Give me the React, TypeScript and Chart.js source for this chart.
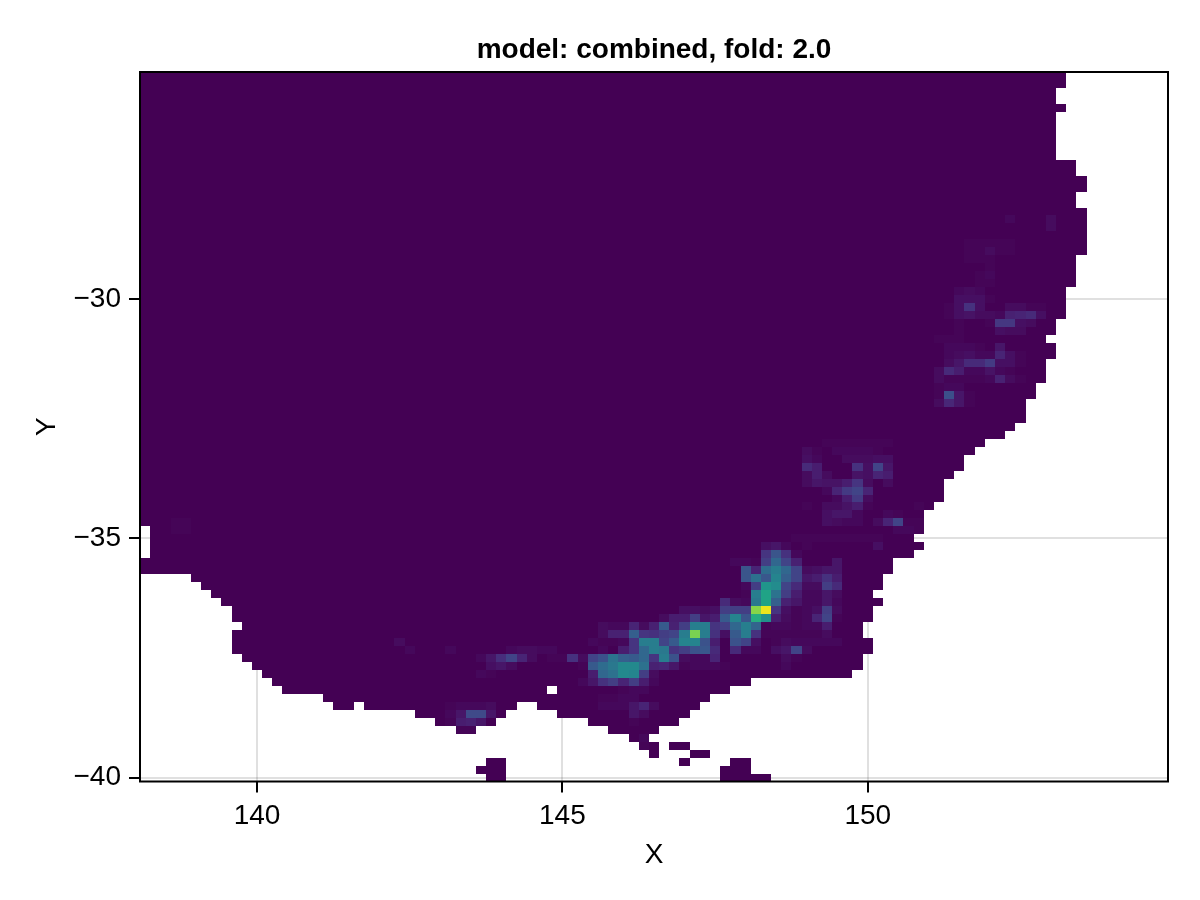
import React, { useEffect, useRef } from "react";
import { Chart, registerables } from "chart.js";

Chart.register(...registerables);

const CELL_DEG = 1 / 6;
const LON_MIN = 140 - 11.5 / 6;
const LAT_MAX = -30 + 28.5 / 6;
const COLS = 101;
const ROWS = 89;
const xTicks = [140, 145, 150];
const yTicks = [-30, -35, -40];
const titleText = "model: combined, fold: 2.0";

// land runs per grid row: [firstRow, lastRow, startCol, endCol (exclusive)]
const landRuns = [
  [0, 1, 0, 91], [2, 3, 0, 90], [4, 4, 0, 91], [5, 10, 0, 90], [11, 12, 0, 92], [13, 14, 0, 93],
  [15, 16, 0, 92], [17, 22, 0, 93], [23, 26, 0, 92], [27, 30, 0, 91], [31, 32, 0, 90], [33, 33, 0, 89],
  [34, 35, 0, 90], [36, 38, 0, 89], [39, 40, 0, 88], [41, 43, 0, 87], [44, 44, 0, 86], [45, 45, 0, 85],
  [46, 46, 0, 83], [47, 47, 0, 82], [48, 49, 0, 81], [50, 50, 0, 80], [51, 53, 0, 79], [54, 54, 0, 78],
  [55, 56, 0, 77], [57, 57, 1, 77], [58, 58, 1, 76], [59, 59, 1, 77], [60, 60, 1, 76], [61, 62, 0, 74],
  [63, 63, 5, 73], [64, 64, 6, 73], [65, 65, 7, 72], [66, 66, 8, 73], [67, 68, 9, 72], [69, 69, 10, 71],
  [70, 70, 9, 71], [71, 72, 9, 72], [73, 73, 10, 71], [74, 74, 11, 71], [75, 75, 12, 70], [76, 76, 13, 60],
  [77, 77, 14, 40], [77, 77, 41, 58], [78, 78, 18, 56], [79, 79, 19, 21], [79, 79, 22, 37], [79, 79, 39, 55],
  [80, 80, 27, 36], [80, 80, 41, 54], [81, 81, 29, 35], [81, 81, 44, 53], [82, 82, 31, 33], [82, 82, 46, 51],
  [83, 83, 48, 50], [84, 84, 49, 51], [84, 84, 52, 54], [85, 85, 50, 51], [85, 85, 54, 56],
  [86, 86, 34, 36], [86, 86, 53, 54], [86, 86, 58, 60], [87, 87, 33, 36], [87, 87, 57, 60],
  [88, 88, 34, 36], [88, 88, 57, 62],
];

// north-east cluster: [row, startCol, values in percent of the colour range]
const northEastCells: [number, number, number[]][] = [
  [18, 85, [2, 0, 0, 0, 3]], [19, 89, [3]], [21, 81, [1, 1, 1, 1, 1]], [22, 81, [1, 1, 3, 1, 1]], [23, 81, [1, 1, 1]],
  [24, 83, [1]], [25, 82, [1, 2]], [26, 82, [1, 1]], [27, 80, [2, 3, 2]], [28, 80, [4, 4, 4, 1]],
  [29, 79, [1, 4, 14, 4, 0, 0, 3, 3, 1, 1]], [30, 79, [1, 4, 5, 3, 3, 2, 9, 10, 12, 4]],
  [31, 80, [1, 0, 0, 1, 16, 16, 4, 3]], [32, 80, [1, 0, 0, 0, 4, 3, 3]], [33, 78, [1, 1, 1]],
  [34, 79, [2, 2, 2, 1, 0, 6]], [35, 79, [2, 3, 4, 2, 2, 10, 4, 1]], [36, 79, [3, 6, 12, 12, 17, 4, 4, 1]],
  [37, 78, [3, 12, 8, 2, 2, 5, 2, 1]], [38, 78, [3, 1, 1, 1, 1, 2, 9, 3, 1]], [39, 78, [1, 2, 2]],
  [40, 78, [1, 24, 6, 1]], [41, 78, [3, 11, 6, 1]],
];

// mid-coast cluster
const midCoastCells: [number, number, number[]][] = [
  [46, 67, [1, 1, 1, 1, 1, 1, 1]], [47, 65, [3, 1, 0, 2, 2, 2, 2, 1]], [48, 65, [4, 2, 0, 0, 3, 3, 3, 4, 4]],
  [49, 65, [12, 8, 0, 0, 0, 14, 4, 20, 6]], [50, 65, [3, 8, 3, 0, 0, 5, 4, 10, 8]],
  [51, 65, [3, 6, 5, 5, 8, 15, 3, 0, 3]], [52, 67, [2, 10, 17, 20, 10]], [53, 68, [2, 8, 17, 3]],
  [54, 65, [1, 0, 3, 3, 5, 8, 1, 0, 0, 0, 0, 1]], [55, 67, [4, 6, 6, 2, 0, 0, 2, 1]],
  [56, 67, [4, 3, 2, 2, 0, 3, 10, 20, 1, 1]], [57, 74, [2, 2, 1]], [58, 64, [1, 1, 1, 1, 1, 1, 1, 1, 1]],
  [59, 65, [1]], [59, 72, [4]], [56, 3, [1, 1]], [57, 3, [1, 1]],
];

// alpine cluster and the south coast
const alpineCells: [number, number, number[]][] = [
  [59, 61, [4, 6, 2]], [60, 61, [15, 26, 14, 2]], [61, 58, [2, 2, 1, 18, 33, 20, 9, 0, 0, 0, 6]],
  [62, 59, [26, 10, 35, 42, 33, 20, 3, 4, 6, 6]], [63, 59, [26, 37, 27, 45, 30, 20, 6, 8, 14, 8]],
  [64, 59, [2, 18, 52, 48, 20, 12, 3, 3, 18, 12]], [65, 59, [1, 42, 58, 38, 18, 8, 2, 2, 6, 3]],
  [66, 57, [12, 3, 2, 40, 58, 30, 9, 6, 2, 2, 6, 2]],
  [67, 53, [4, 4, 3, 4, 18, 18, 18, 82, 97, 15, 4, 1, 2, 4, 18, 3]],
  [68, 51, [3, 8, 8, 18, 6, 8, 28, 45, 26, 62, 50, 8, 3, 1, 2, 10, 20, 1]],
  [69, 45, [3, 2, 2, 10, 3, 9, 28, 9, 18, 43, 42, 15, 18, 33, 43, 32, 1, 2, 2, 1, 2, 2, 8]],
  [70, 45, [3, 9, 9, 30, 15, 14, 18, 20, 42, 80, 42, 14, 4, 28, 42, 14, 1, 1, 1, 1, 1, 1, 3]],
  [71, 44, [2, 1, 1, 2, 15, 42, 42, 20, 28, 45, 45, 25, 8, 0, 25, 20, 4, 0, 1, 3, 2, 2, 2, 2, 2]],
  [72, 36, [2, 3, 3, 2, 2, 0, 0, 0, 0, 2, 0, 8, 15, 33, 42, 40, 15, 18, 25, 27, 12, 0, 12, 2, 2, 0, 4, 6, 20, 3]],
  [73, 33, [2, 6, 13, 20, 10, 3, 0, 1, 1, 14, 3, 20, 25, 38, 30, 28, 33, 15, 42, 25, 3, 2, 2, 10]],
  [73, 63, [3, 1]],
  [74, 34, [4, 6, 3, 0, 0, 0, 0, 0, 0, 1, 28, 35, 40, 47, 47, 37, 9, 10, 6, 1, 2, 2, 2, 1]],
  [74, 63, [2]], [75, 33, [2, 1]], [75, 44, [8, 33, 37, 47, 45, 18, 3]], [76, 43, [2, 6, 14, 18, 10, 18, 8, 2]],
  [77, 47, [1, 2, 2]], [78, 45, [1, 1, 2, 2]], [79, 30, [1, 2, 2, 2, 3]], [79, 45, [2, 2, 2, 6, 10, 3]],
  [80, 30, [2, 6, 22, 22, 6]], [80, 48, [6, 3]], [81, 30, [1, 8, 9, 6]], [81, 48, [1]], [82, 31, [1, 1]],
  [83, 49, [2]], [84, 49, [1]], [71, 25, [3]], [72, 26, [2]], [72, 30, [2]],
];

const viridisStops = [
  "#440154", "#471365", "#482475", "#463480", "#414487", "#3b528b", "#355f8d", "#2f6c8e", "#2a788e", "#25848e", "#21918c",
  "#1e9c89", "#22a884", "#2fb47c", "#44bf70", "#5ec962", "#7ad151", "#9bd93c", "#bddf26", "#dfe318", "#fde725",
];

function hexRgb(h: string) {
  return [parseInt(h.slice(1, 3), 16), parseInt(h.slice(3, 5), 16), parseInt(h.slice(5, 7), 16)];
}

function viridis(pct: number) {
  const t = Math.min(Math.max(pct / 5, 0), 20);
  const i = Math.min(Math.floor(t), 19);
  const f = t - i;
  const a = hexRgb(viridisStops[i]);
  const b = hexRgb(viridisStops[i + 1]);
  const c = a.map((v, k) => Math.round(v + (b[k] - v) * f));
  return `rgb(${c[0]},${c[1]},${c[2]})`;
}

function buildCells() {
  const heat = new Map<string, number>();
  for (const [r, start, vals] of [...northEastCells, ...midCoastCells, ...alpineCells]) {
    vals.forEach((v, i) => {
      if (v > 0) heat.set(`${r}:${start + i}`, v);
    });
  }
  const cells: { x: number; y: number; v: number }[] = [];
  for (const [r0, r1, c0, c1] of landRuns) {
    for (let r = r0; r <= r1; r++) {
      for (let c = c0; c < c1; c++) {
        cells.push({
          x: LON_MIN + (c + 0.5) * CELL_DEG,
          y: LAT_MAX - (r + 0.5) * CELL_DEG,
          v: heat.get(`${r}:${c}`) ?? 0,
        });
      }
    }
  }
  return cells;
}

const heatPlugin = {
  id: "heatCells",
  beforeDatasetsDraw(chart: any) {
    const { ctx, scales } = chart;
    const data = chart.data.datasets[0].data as { x: number; y: number; v: number }[];
    ctx.save();
    for (const d of data) {
      const x0 = Math.round(scales.x.getPixelForValue(d.x - CELL_DEG / 2));
      const x1 = Math.round(scales.x.getPixelForValue(d.x + CELL_DEG / 2));
      const y0 = Math.round(scales.y.getPixelForValue(d.y + CELL_DEG / 2));
      const y1 = Math.round(scales.y.getPixelForValue(d.y - CELL_DEG / 2));
      ctx.fillStyle = viridis(d.v);
      ctx.fillRect(x0, y0, x1 - x0, y1 - y0);
    }
    ctx.restore();
  },
};

const framePlugin = {
  id: "frame",
  afterDatasetsDraw(chart: any) {
    const { ctx, chartArea: a } = chart;
    ctx.save();
    ctx.strokeStyle = "#000";
    ctx.lineWidth = 2;
    ctx.strokeRect(a.left, a.top, a.right - a.left, a.bottom - a.top);
    ctx.restore();
  },
};

const FONT = "'Liberation Sans', Arial, sans-serif";

export default function App() {
  const ref = useRef<HTMLCanvasElement | null>(null);
  useEffect(() => {
    document.body.style.margin = "0";
    const chart = new Chart(ref.current as HTMLCanvasElement, {
      type: "scatter",
      data: {
        datasets: [{ data: buildCells(), pointRadius: 0, pointHoverRadius: 0, showLine: false }],
      } as any,
      plugins: [heatPlugin, framePlugin],
      options: {
        animation: false,
        responsive: false,
        devicePixelRatio: 1,
        events: [],
        layout: { padding: { left: 0, right: 32, top: 0, bottom: 0 } },
        plugins: {
          legend: { display: false },
          tooltip: { enabled: false },
          title: {
            display: true,
            text: titleText,
            fullSize: false,
            color: "#000",
            font: { family: FONT, size: 28, weight: "bold", lineHeight: 1.2 },
            padding: { top: 33, bottom: 5.4 },
          },
        },
        scales: {
          x: {
            type: "linear",
            min: LON_MIN,
            max: LON_MIN + COLS * CELL_DEG,
            afterBuildTicks: (s: any) => {
              s.ticks = xTicks.map((value) => ({ value }));
            },
            afterFit: (s: any) => {
              s.height = 118.5;
            },
            grid: { color: "rgba(0,0,0,0.12)", lineWidth: 2, tickColor: "#000", tickWidth: 2, tickLength: 11 },
            border: { display: false },
            ticks: {
              color: "#000",
              font: { family: FONT, size: 28 },
              padding: 7,
              maxRotation: 0,
              callback: (v: any) => String(v),
            },
            title: {
              display: true,
              text: "X",
              color: "#000",
              font: { family: FONT, size: 28, lineHeight: 1.2 },
              padding: { top: 0, bottom: 28 },
            },
          },
          y: {
            type: "linear",
            min: LAT_MAX - ROWS * CELL_DEG,
            max: LAT_MAX,
            afterBuildTicks: (s: any) => {
              s.ticks = yTicks.map((value) => ({ value }));
            },
            afterFit: (s: any) => {
              s.width = 140;
            },
            grid: { color: "rgba(0,0,0,0.12)", lineWidth: 2, tickColor: "#000", tickWidth: 2, tickLength: 11 },
            border: { display: false },
            ticks: {
              color: "#000",
              font: { family: FONT, size: 28 },
              padding: 8,
              callback: (v: any) => String(v).replace("-", "\u2212"),
            },
            title: {
              display: true,
              text: "Y",
              color: "#000",
              font: { family: FONT, size: 28, lineHeight: 1.2 },
              padding: { top: 30, bottom: 0 },
            },
          },
        },
      } as any,
    });
    return () => chart.destroy();
  }, []);
  return <canvas ref={ref} width={1200} height={900} style={{ display: "block" }} />;
}
